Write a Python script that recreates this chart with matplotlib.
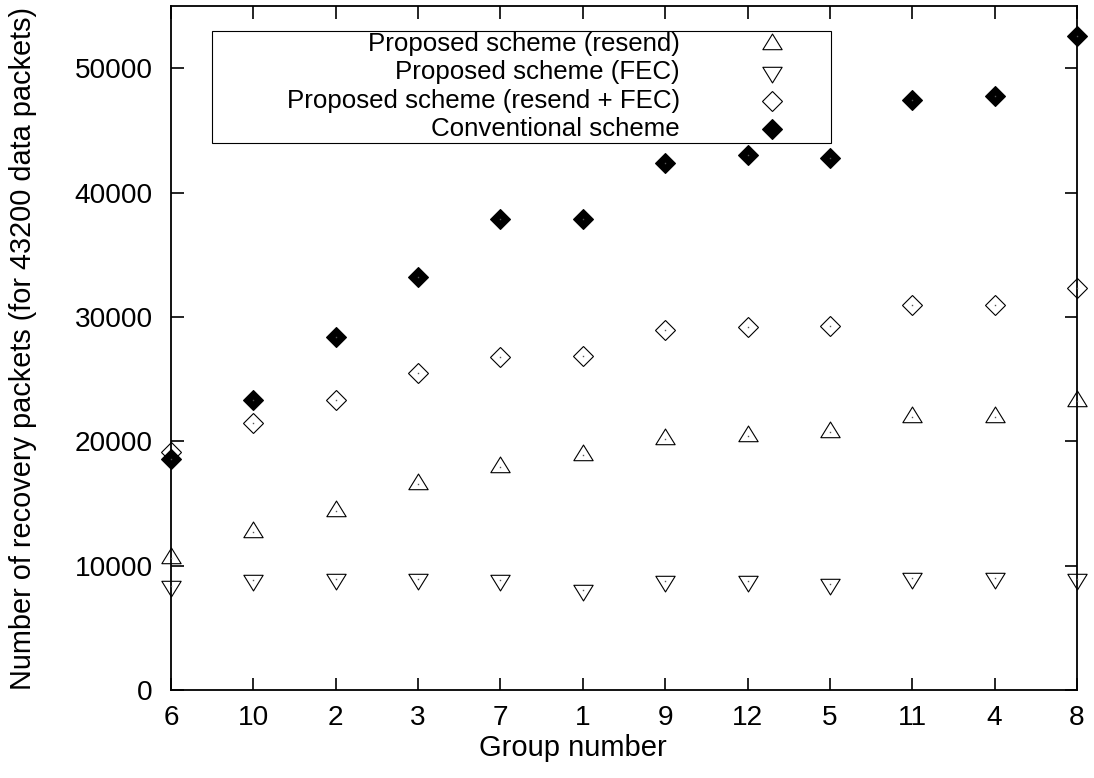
import numpy as np
import matplotlib
matplotlib.use("Agg")
import matplotlib.pyplot as plt
from matplotlib.path import Path
from matplotlib.patches import Rectangle

# Recovery packets per group (43200 data packets each)
groups = ["6", "10", "2", "3", "7", "1", "9", "12", "5", "11", "4", "8"]
resend = [10600, 12700, 14400, 16550, 17900, 18900, 20150, 20400, 20750, 21950, 21950, 23200]
fec = [8400, 8850, 8950, 8950, 8850, 8050, 8800, 8800, 8550, 9000, 9000, 8950]
resend_fec = [19150, 21500, 23350, 25450, 26750, 26850, 28950, 29150, 29250, 30950, 30950, 32300]
conventional = [18550, 23300, 28400, 33200, 37900, 37850, 42400, 43000, 42750, 47450, 47750, 52600]

series_labels = [
    "Proposed scheme (resend)",
    "Proposed scheme (FEC)",
    "Proposed scheme (resend + FEC)",
    "Conventional scheme",
]
y_ticks = [0, 10000, 20000, 30000, 40000, 50000]

plt.rcParams["font.family"] = ["Liberation Sans", "DejaVu Sans"]

DPI = 100
W, H = 1094, 778
fig = plt.figure(figsize=(W / DPI, H / DPI), dpi=DPI)

# axes box in pixels
L, R, T, B = 171, 1077, 6, 690
ax = fig.add_axes([L / W, 1 - B / H, (R - L) / W, (B - T) / H])

# gnuplot-like point shapes, centred on the centroid
def tri(up=True):
    w, base, apex = 9.65, -5.2, 10.45
    if not up:
        base, apex = -base, -apex
    verts = [(-w, base), (w, base), (0, apex), (-w, base)]
    return Path(verts, [Path.MOVETO, Path.LINETO, Path.LINETO, Path.CLOSEPOLY]), max(abs(base), abs(apex), w)

tri_up, s_up = tri(True)
tri_dn, s_dn = tri(False)
ms_tri = 2 * s_up * 72 / DPI
ms_dia = 10.0

x = np.arange(len(groups))
mew = 0.8
styles = [
    dict(marker=tri_up, ms=ms_tri, mfc="none", mec="black", mew=mew),
    dict(marker=tri_dn, ms=ms_tri, mfc="none", mec="black", mew=mew),
    dict(marker="D", ms=ms_dia, mfc="none", mec="black", mew=mew),
    dict(marker="D", ms=ms_dia, mfc="black", mec="black", mew=mew),
]
for vals, st in zip([resend, fec, resend_fec, conventional], styles):
    ax.plot(x, vals, ls="none", clip_on=False, zorder=3, **st)
    ax.plot(x, vals, ls="none", marker="s", ms=1.0, mfc="#555555", mec="none",
            clip_on=False, zorder=3)

ax.set_xlim(0, len(groups) - 1)
ax.set_ylim(0, 55000)
ax.set_xticks(x)
ax.set_xticklabels(groups)
ax.set_yticks(y_ticks)
ax.set_yticklabels([str(v) for v in y_ticks])
ax.tick_params(direction="in", length=9, width=1.2, top=True, right=True,
               labelsize=20.2, pad=11)
ax.tick_params(axis="y", pad=13)
for sp in ax.spines.values():
    sp.set_linewidth(1.3)

fig.text(573 / W, 1 - 748 / H, "Group number", ha="center", va="center", fontsize=21)
fig.text(23 / W, 1 - 348 / H, "Number of recovery packets (for 43200 data packets)",
         ha="center", va="center", rotation=90, fontsize=20.8)

# key box
def fx(px):
    return (px - L) / (R - L)

def fy(py):
    return (B - py) / (B - T)

ax.add_patch(Rectangle((fx(212), fy(143)), fx(831) - fx(212), fy(31) - fy(143),
                       transform=ax.transAxes, fill=False, ec="black", lw=0.8,
                       clip_on=False, zorder=4))
rows = [44, 72, 101, 129]
for lab, st, py in zip(series_labels, styles, rows):
    ax.text(fx(680), fy(py), lab, transform=ax.transAxes, ha="right", va="center",
            fontsize=18.6, zorder=5)
    ax.plot([fx(772)], [fy(py)], ls="none", transform=ax.transAxes, clip_on=False,
            zorder=5, **st)

fig.savefig("out.png", dpi=DPI)
